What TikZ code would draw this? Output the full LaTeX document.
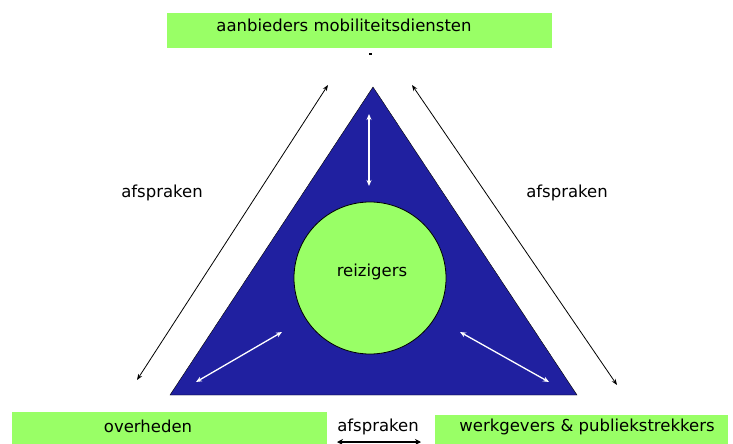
\documentclass[tikz,border=0pt]{standalone}
\usepackage{fontspec}
\setmainfont{DejaVu Sans}
\usetikzlibrary{arrows.meta}
\definecolor{lime}{RGB}{153,255,102}
\definecolor{navy}{RGB}{32,32,160}

\begin{document}
\begin{tikzpicture}[
        x=1pt, y=-1pt,
        font=\fontsize{16.5}{19}\selectfont,
        party/.style={fill=lime, inner sep=0pt},
        lab/.style={inner sep=1pt},
        outer/.style={line width=0.8pt, {Stealth[length=6pt,width=4.5pt]}-{Stealth[length=6pt,width=4.5pt]}},
        inner/.style={white, line width=1.3pt, {Stealth[length=6pt,width=5pt]}-{Stealth[length=6pt,width=5pt]}},
        base/.style={line width=2pt, {Stealth[length=6pt,width=6pt]}-{Stealth[length=6pt,width=6pt]}}
    ]
        \useasboundingbox (0,0) rectangle (733,444);

        % parties
        \node[party, minimum width=385pt, minimum height=35pt] (providers) at (359.5,30.5) {};
        \node[lab] (providerstext) at (344,25) {aanbieders mobiliteitsdiensten};
        \node[party, minimum width=315pt, minimum height=36pt] (government) at (169.5,430) {};
        \node[lab] (governmenttext) at (148,426) {overheden};
        \node[party, minimum width=293pt, minimum height=34pt] (employers) at (581.5,432) {};
        \node[lab] (employerstext) at (587,427) {werkgevers \& publiekstrekkers};
        \fill (369,53) rectangle (371.5,55.5);

        % triangle with travellers
        \coordinate (apex) at (373,87);
        \coordinate (left) at (170,395);
        \coordinate (right) at (577,395);
        \draw[fill=navy] (apex) -- (left) -- (right) -- cycle;
        \node[circle, draw, line width=0.8pt, fill=lime, minimum size=152pt, inner sep=0pt] (travellers) at (370,278) {};
        \node[lab] (travellerstext) at (372,272) {reizigers};

        % agreements
        \coordinate (lt) at (328,85);
        \coordinate (lb) at (137,380);
        \coordinate (rt) at (412,85);
        \coordinate (rb) at (617,385);
        \draw[outer] (lt) -- (lb);
        \draw[outer] (rt) -- (rb);
        \node[lab] (leftlab) at (162,193) {afspraken};
        \node[lab] (rightlab) at (567,193) {afspraken};
        \node[lab] (baselab) at (378,427) {afspraken};
        \coordinate (bl) at (337,442);
        \coordinate (br) at (421,442);
        \draw[base] (bl) -- (br);

        % inner arrows
        \coordinate (it) at (369,114);
        \coordinate (ib) at (369,186);
        \coordinate (ila) at (282,332);
        \coordinate (ilb) at (196,382);
        \coordinate (ira) at (460,332);
        \coordinate (irb) at (549,382);
        \draw[inner] (it) -- (ib);
        \draw[inner] (ila) -- (ilb);
        \draw[inner] (ira) -- (irb);
    \end{tikzpicture}
\end{document}
